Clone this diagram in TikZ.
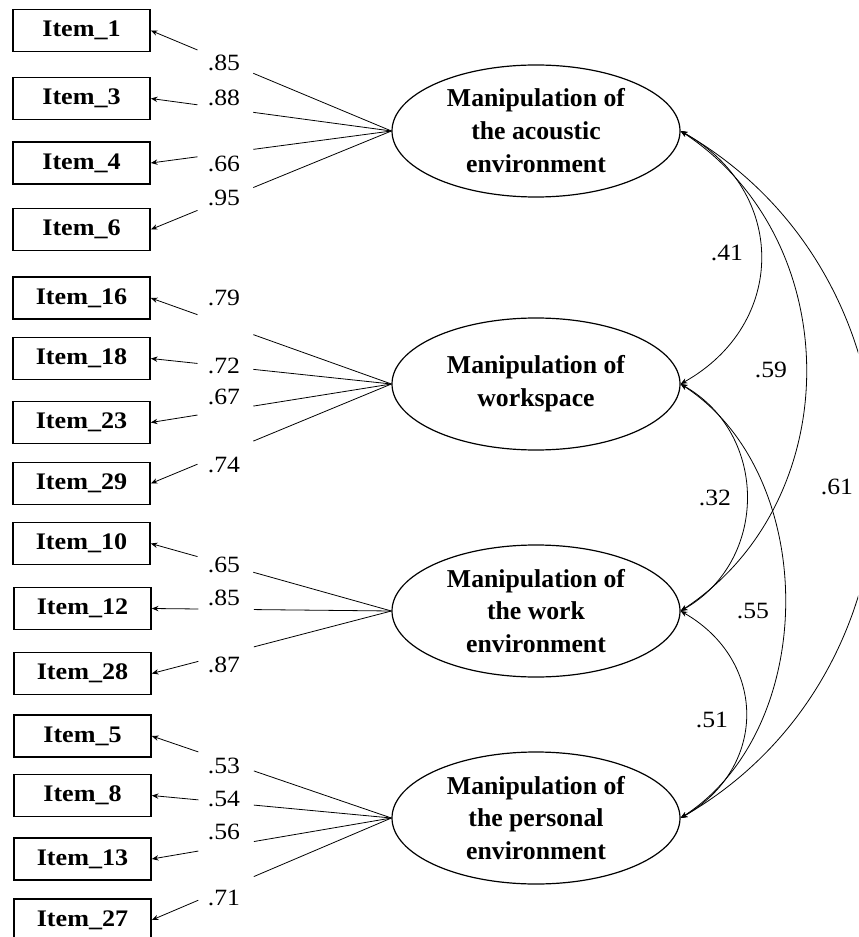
\documentclass[tikz,border=0pt]{standalone}
\usepackage{fontspec}
\setmainfont{Liberation Serif}
\newfontfamily\itemfont[FakeStretch=1.1]{Liberation Serif}
\newfontfamily\labfont[FakeStretch=1.1]{Liberation Serif}
\usetikzlibrary{shapes.geometric,arrows.meta,calc}
\tikzset{
 item/.style={draw, line width=1.2pt, minimum width=102.75pt, minimum height=31.5pt, inner sep=0pt, font=\itemfont\bfseries\fontsize{17.8}{20}\selectfont},
 latent/.style={ellipse, draw, line width=0.9pt, minimum width=216pt, minimum height=99pt, inner sep=0pt, align=center, font=\bfseries\fontsize{19.3}{24.7}\selectfont},
 est/.style={font=\labfont\fontsize{17.5}{20}\selectfont, inner sep=0pt},
 load/.style={line width=0.6pt},
 arr/.style={line width=0.6pt, -{Stealth[length=5pt,width=4pt]}},
 cov/.style={line width=0.6pt, {Stealth[length=5pt,width=4pt]}-{Stealth[length=5pt,width=4pt]}},
}
\newcommand\loadline[2]{%
  \draw[load] (#1.west) -- ($(#1.west)!0.574!(#2.east)$);
  \draw[arr] ($(#1.west)!0.806!(#2.east)$) -- (#2.east);}
\begin{document}
\begin{tikzpicture}[x=0.75pt,y=-0.75pt]
\useasboundingbox (0,0) rectangle (858,937);
\clip (0,0) rectangle (858,937);
% latent variables
\node[latent] (E1) at (536,131) {Manipulation of\\the acoustic\\environment};
\node[latent] (E2) at (536,384) {Manipulation of\\workspace};
\node[latent] (E3) at (536,611) {Manipulation of\\the work\\environment};
\node[latent] (E4) at (536,818) {Manipulation of\\the personal\\environment};
% items
\node[item] (i1)  at (81.5,30.5) {Item\_1};
\node[item] (i3)  at (81.5,98.5) {Item\_3};
\node[item] (i4)  at (81.5,163) {Item\_4};
\node[item] (i6)  at (81.5,229.5) {Item\_6};
\node[item] (i16) at (81.5,298) {Item\_16};
\node[item] (i18) at (81.5,358.5) {Item\_18};
\node[item] (i23) at (81.5,422.5) {Item\_23};
\node[item] (i29) at (81.5,483.5) {Item\_29};
\node[item] (i10) at (81.5,543.5) {Item\_10};
\node[item] (i12) at (82.5,608.5) {Item\_12};
\node[item] (i28) at (82.5,673.5) {Item\_28};
\node[item] (i5)  at (82.5,736) {Item\_5};
\node[item] (i8)  at (82.5,795.5) {Item\_8};
\node[item] (i13) at (82.5,859) {Item\_13};
\node[item] (i27) at (82.5,920) {Item\_27};
% loadings
\loadline{E1}{i1}\loadline{E1}{i3}\loadline{E1}{i4}\loadline{E1}{i6}
\loadline{E2}{i16}\loadline{E2}{i18}\loadline{E2}{i23}\loadline{E2}{i29}
\loadline{E3}{i10}\loadline{E3}{i12}\loadline{E3}{i28}
\loadline{E4}{i5}\loadline{E4}{i8}\loadline{E4}{i13}\loadline{E4}{i27}
\node[est] (l1)  at (224,63) {.85};
\node[est] (l3)  at (224,98) {.88};
\node[est] (l4)  at (224,164) {.66};
\node[est] (l6)  at (224,198) {.95};
\node[est] (l16) at (224,298) {.79};
\node[est] (l18) at (224,366) {.72};
\node[est] (l23) at (224,397) {.67};
\node[est] (l29) at (224,465) {.74};
\node[est] (l10) at (224,565) {.65};
\node[est] (l12) at (224,598) {.85};
\node[est] (l28) at (224,665) {.87};
\node[est] (l5)  at (224,766) {.53};
\node[est] (l8)  at (224,799) {.54};
\node[est] (l13) at (224,832) {.56};
\node[est] (l27) at (224,898) {.71};
% covariances
\draw[cov] (E1.east) .. controls +(107,60) and +(107,-60) .. (E2.east);
\draw[cov] (E1.east) .. controls +(167,110) and +(167,-110) .. (E3.east);
\draw[cov] (E1.east) .. controls +(260,150) and +(260,-150) .. (E4.east);
\draw[cov] (E2.east) .. controls +(88,50) and +(88,-50) .. (E3.east);
\draw[cov] (E2.east) .. controls +(139,90) and +(139,-90) .. (E4.east);
\draw[cov] (E3.east) .. controls +(87,50) and +(87,-50) .. (E4.east);
\node[est] (c12) at (727,253) {.41};
\node[est] (c13) at (771,370) {.59};
\node[est] (c14) at (837,487) {.61};
\node[est] (c23) at (715,498) {.32};
\node[est] (c24) at (753,611) {.55};
\node[est] (c34) at (712,720) {.51};
\end{tikzpicture}
\end{document}
